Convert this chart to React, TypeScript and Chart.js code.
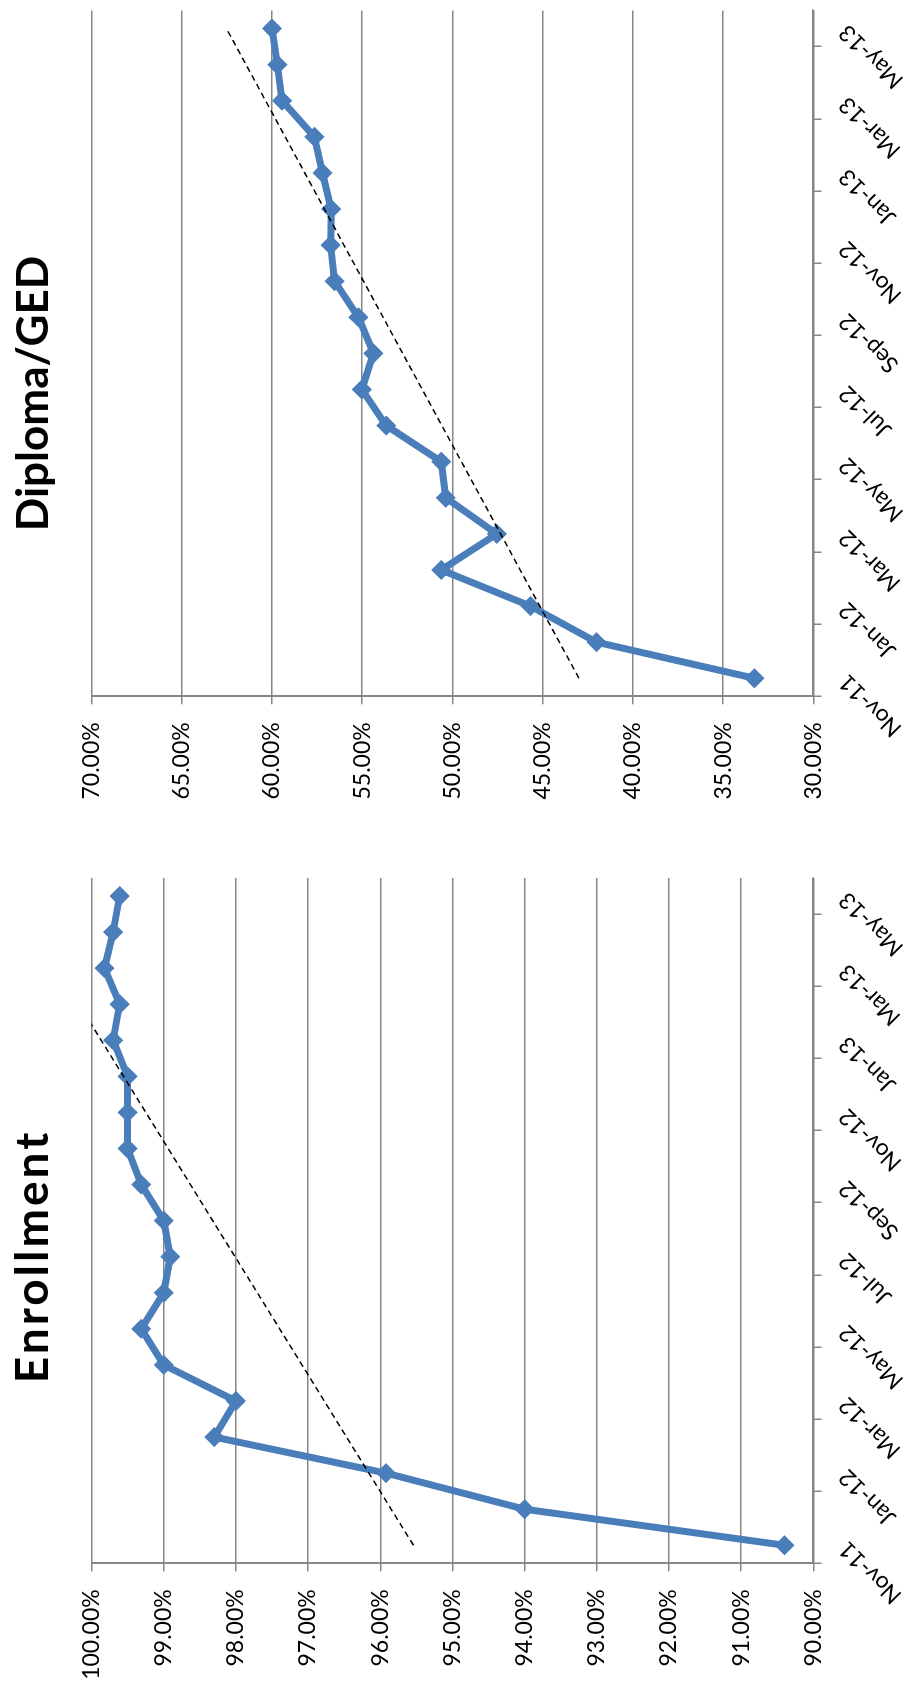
import React, { useEffect, useRef } from 'react';
import { Chart, registerables } from 'chart.js';

Chart.register(...registerables);

// Monthly categories shared by both panels
const months = [
  'Nov-11', 'Dec-11', 'Jan-12', 'Feb-12', 'Mar-12', 'Apr-12', 'May-12', 'Jun-12', 'Jul-12', 'Aug-12',
  'Sep-12', 'Oct-12', 'Nov-12', 'Dec-12', 'Jan-13', 'Feb-13', 'Mar-13', 'Apr-13', 'May-13',
];

// Percent rates per month
const enrollmentRates = [
  90.4, 94.0, 95.92, 98.3, 98.0, 99.0, 99.31, 99.0, 98.91, 99.0,
  99.31, 99.5, 99.5, 99.5, 99.7, 99.61, 99.82, 99.7, 99.61,
];
const diplomaRates = [
  33.27, 42.02, 45.68, 50.62, 47.54, 50.37, 50.62, 53.67, 55.02, 54.38,
  55.21, 56.53, 56.75, 56.72, 57.2, 57.65, 59.44, 59.7, 60.0,
];

const BLUE = '#4A7EBB';
const GRID = '#868686';
const FONT = 'Lato, "Liberation Sans", sans-serif';

const PAGE_W = 1690; // landscape layout, turned a quarter turn on the page
const PAGE_H = 908;
const PANEL_W = 845;

// Least-squares linear trend evaluated at each category index
function linearTrend(values: number[]): number[] {
  const n = values.length;
  let sx = 0, sy = 0, sxx = 0, sxy = 0;
  values.forEach((v, i) => {
    sx += i; sy += v; sxx += i * i; sxy += i * v;
  });
  const slope = (n * sxy - sx * sy) / (n * sxx - sx * sx);
  const icept = (sy - slope * sx) / n;
  return values.map((_, i) => icept + slope * i);
}

// Bold panel heading drawn above the plot area
const panelTitle = {
  id: 'panelTitle',
  afterDraw(chart: any, _args: any, opts: any) {
    const ctx = chart.ctx as CanvasRenderingContext2D;
    ctx.save();
    ctx.font = `bold ${opts.size}px ${FONT}`;
    ctx.fillStyle = '#000000';
    ctx.textAlign = 'center';
    ctx.textBaseline = 'alphabetic';
    (ctx as any).letterSpacing = `${opts.spacing}px`;
    ctx.fillText(opts.text, opts.x + opts.spacing / 2, opts.y);
    ctx.restore();
  },
};

type PanelProps = {
  title: string;
  titleX: number;
  titleSize: number;
  titleSpacing: number;
  values: number[];
  min: number;
  max: number;
  step: number;
  left: number;
  padRight: number;
  axisWidth: number;
};

function RatePanel(props: PanelProps) {
  const { title, titleX, titleSize, titleSpacing, values, min, max, step, left, padRight, axisWidth } = props;
  const ref = useRef<HTMLCanvasElement | null>(null);

  useEffect(() => {
    if (!ref.current) return;
    const tickFont = { family: FONT, size: 23 };
    const chart = new Chart(ref.current, {
      type: 'line',
      data: {
        labels: months,
        datasets: [
          {
            data: linearTrend(values),
            borderColor: '#000000',
            borderWidth: 1.5,
            borderDash: [6, 4],
            pointRadius: 0,
            fill: false,
            tension: 0,
          },
          {
            data: values,
            borderColor: BLUE,
            backgroundColor: BLUE,
            borderWidth: 7,
            borderJoinStyle: 'round',
            borderCapStyle: 'round',
            pointStyle: 'rectRot',
            pointRadius: 9,
            pointBorderWidth: 1.5,
            pointBackgroundColor: BLUE,
            pointBorderColor: BLUE,
            fill: false,
            tension: 0,
          },
        ],
      },
      plugins: [panelTitle],
      options: {
        responsive: false,
        animation: false,
        devicePixelRatio: 1,
        layout: { padding: { left: 0, right: padRight, top: 91.5, bottom: 0 } },
        plugins: {
          legend: { display: false },
          tooltip: { enabled: false },
          title: { display: false },
          panelTitle: { text: title, x: titleX, y: 48, size: titleSize, spacing: titleSpacing },
        },
        scales: {
          x: {
            type: 'category',
            offset: true,
            grid: {
              offset: true,
              drawOnChartArea: false,
              drawTicks: true,
              tickLength: 8,
              lineWidth: 1.5,
              color: (ctx: any) =>
                ctx.index !== undefined && ctx.index % 2 === 0 ? GRID : 'rgba(0,0,0,0)',
            },
            border: { color: GRID, width: 2 },
            ticks: {
              autoSkip: false,
              minRotation: 45,
              maxRotation: 45,
              padding: 12,
              color: '#000000',
              font: tickFont,
              callback: (_v: any, i: number) => (i % 2 === 0 ? months[i] : ''),
            },
            afterFit: (s: any) => {
              s.height = 94.6;
              s.paddingLeft = 0;
              s.paddingRight = 0;
            },
          },
          y: {
            min,
            max,
            ticks: {
              stepSize: step,
              padding: 18,
              color: '#000000',
              font: tickFont,
              callback: (v: any) => Number(v).toFixed(2) + '%',
            },
            grid: { color: GRID, lineWidth: 1.5, tickLength: 8 },
            border: { color: GRID, width: 2 },
            afterFit: (s: any) => {
              s.width = axisWidth;
              s.paddingTop = 0;
              s.paddingBottom = 0;
            },
          },
        },
      },
    } as any);
    return () => chart.destroy();
  }, [title, titleX, titleSize, titleSpacing, values, min, max, step, padRight, axisWidth]);

  return (
    <canvas
      ref={ref}
      width={PANEL_W}
      height={PAGE_H}
      style={{ position: 'absolute', left, top: 0, width: PANEL_W, height: PAGE_H, display: 'block' }}
    />
  );
}

export default function App() {
  return (
    <div
      style={{
        position: 'absolute',
        left: 0,
        top: 0,
        width: PAGE_W,
        height: PAGE_H,
        background: '#ffffff',
        transformOrigin: '0 0',
        transform: `translate(0px, ${PAGE_W}px) rotate(-90deg)`,
      }}
    >
      <RatePanel
        title="Enrollment"
        titleX={432}
        titleSize={46}
        titleSpacing={3}
        values={enrollmentRates}
        min={90}
        max={100}
        step={1}
        left={0}
        padRight={33}
        axisWidth={126.7}
      />
      <RatePanel
        title="Diploma/GED"
        titleX={451.5}
        titleSize={44}
        titleSpacing={0}
        values={diplomaRates}
        min={30}
        max={70}
        step={5}
        left={PANEL_W}
        padRight={0}
        axisWidth={148.7}
      />
    </div>
  );
}
